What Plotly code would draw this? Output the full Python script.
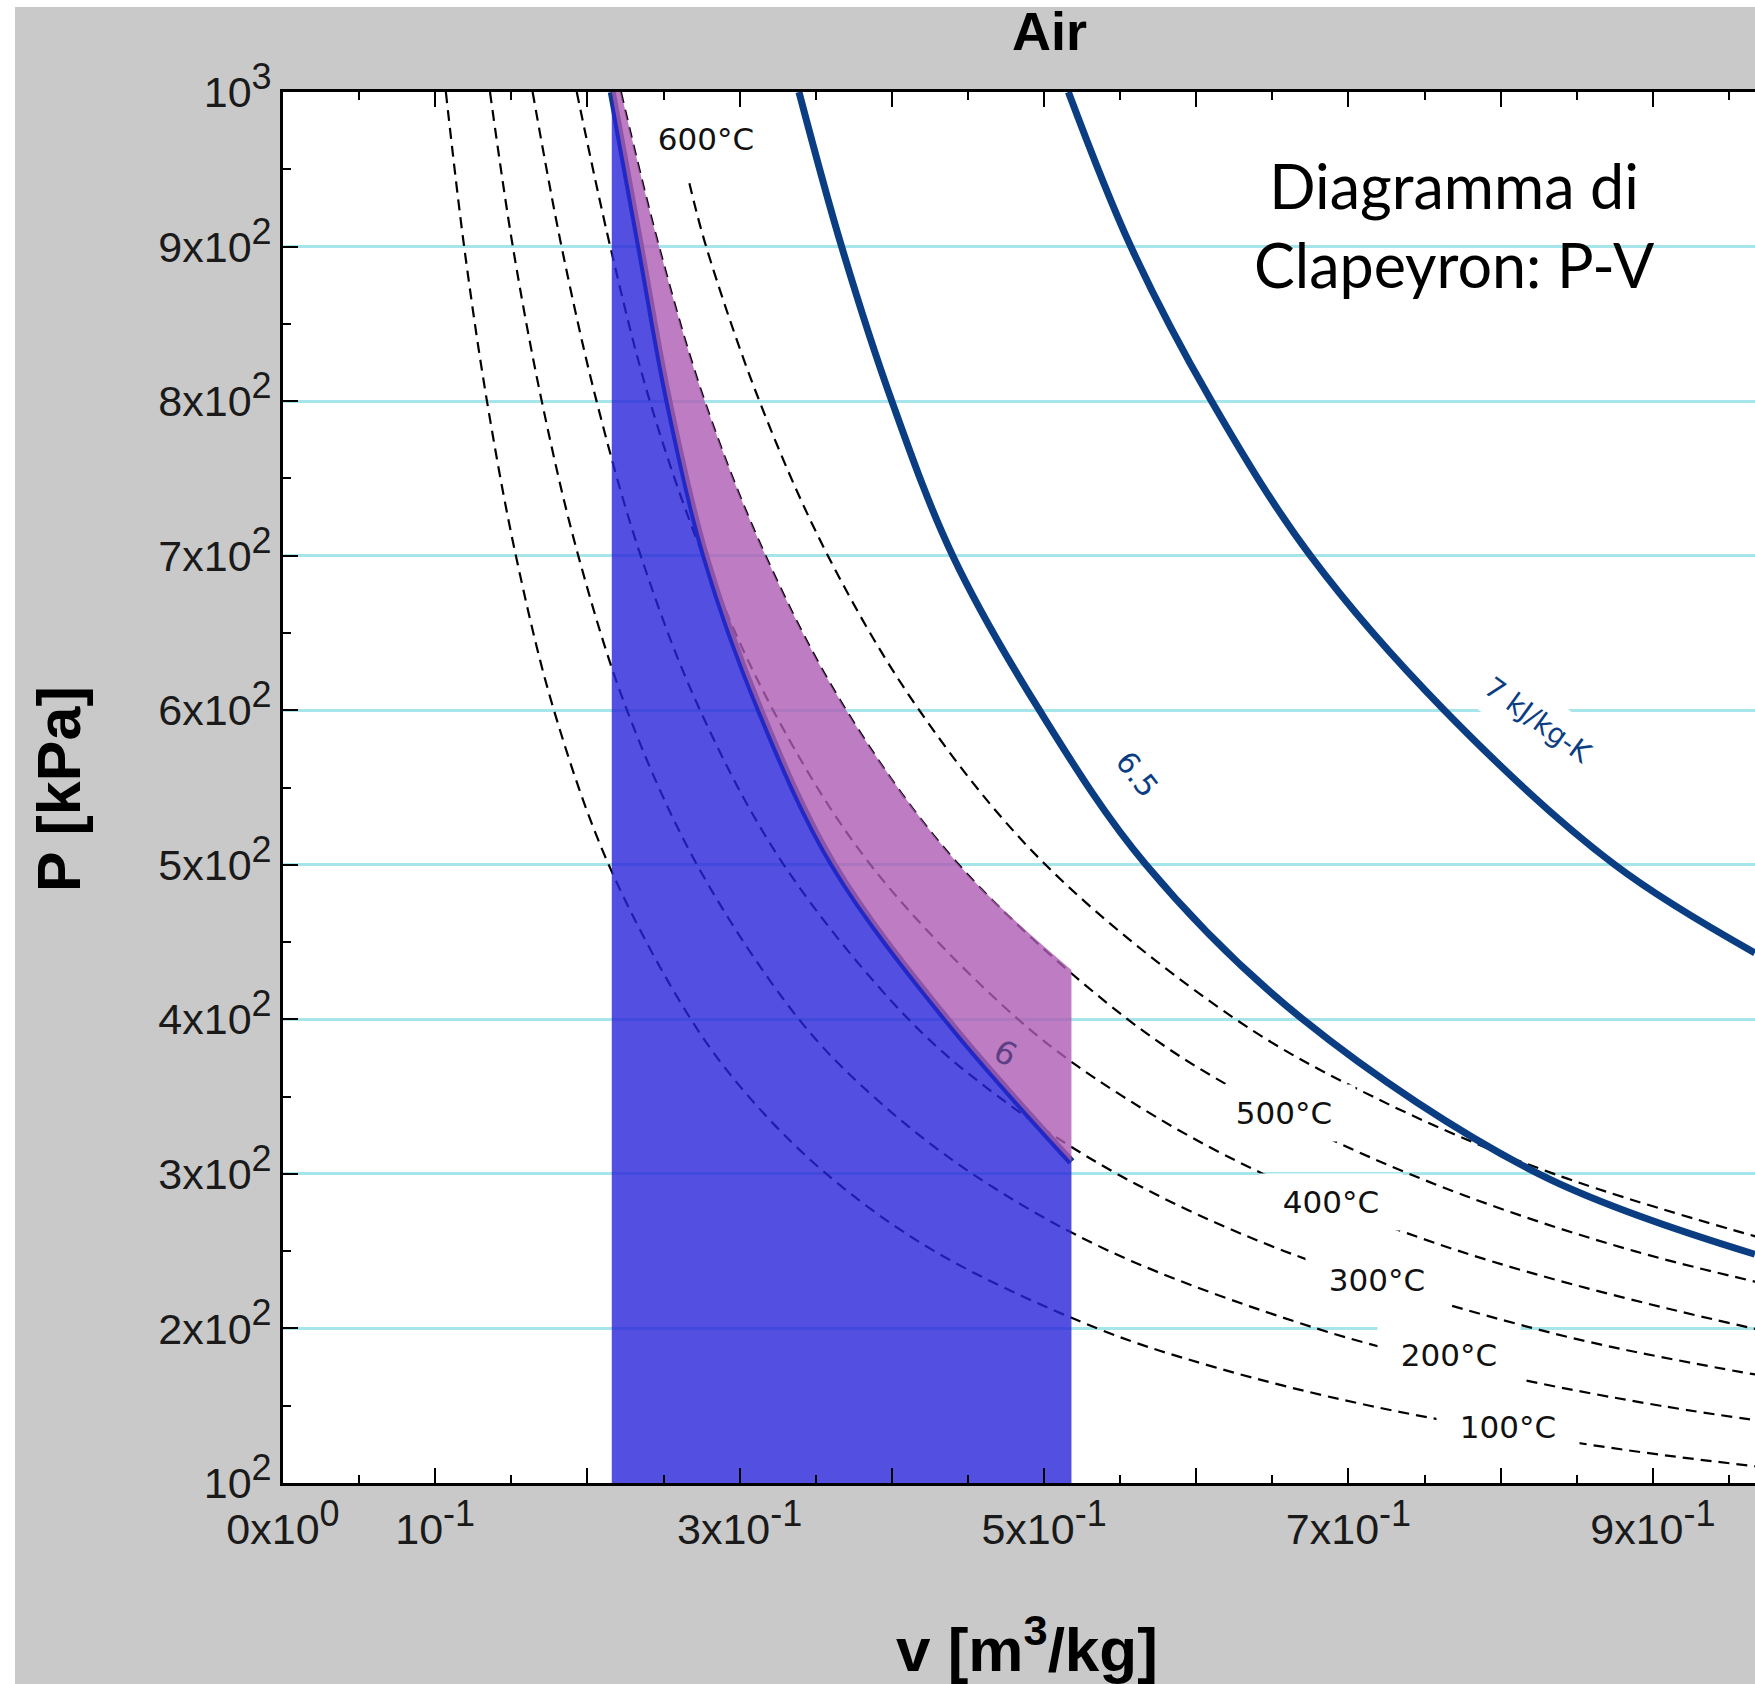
import plotly.graph_objects as go

# ---------------- data ----------------
# isotherms (ideal-gas air), v [m3/kg] read at pressure levels P [kPa]
iso_names = ["100°C", "200°C", "300°C", "400°C", "500°C", "600°C"]
iso_P_grid = [1000, 900, 800, 700, 600, 500, 400, 350, 300, 250, 200, 175, 150, 125, 110, 100]
iso_v_100 = [0.107, 0.119, 0.134, 0.153, 0.178, 0.214, 0.268, 0.306, 0.357, 0.428, 0.535, 0.612, 0.714, 0.857, 0.974, 1.071]
iso_v_200 = [0.136, 0.151, 0.170, 0.194, 0.226, 0.272, 0.339, 0.388, 0.453, 0.543, 0.679, 0.776, 0.905, 1.086]
iso_v_300 = [0.164, 0.183, 0.206, 0.235, 0.274, 0.329, 0.411, 0.470, 0.548, 0.658, 0.822, 0.940, 1.097]
iso_v_400 = [0.193, 0.215, 0.241, 0.276, 0.322, 0.386, 0.483, 0.552, 0.644, 0.773, 0.966, 1.104]
iso_v_500 = [0.222, 0.247, 0.277, 0.317, 0.370, 0.444, 0.555, 0.634, 0.740, 0.888, 1.109]
iso_P_600 = [941, 900, 800, 700, 600, 500, 400, 350, 300, 250]
iso_v_600 = [0.267, 0.278, 0.313, 0.358, 0.418, 0.501, 0.626, 0.716, 0.835, 1.002]

# isentropes [kJ/kg-K]
s6_v = [0.216, 0.2346, 0.2532, 0.2773, 0.3134, 0.3616, 0.436, 0.518]
s6_P = [1000, 900, 800, 700, 600, 500, 400, 307.8]
s65_v = [0.339, 0.367, 0.400, 0.440, 0.497, 0.567, 0.670, 0.825, 0.967]
s65_P = [1000, 900, 800, 700, 600, 500, 400, 300, 248]
s7_v = [0.516, 0.557, 0.610, 0.675, 0.763, 0.875, 0.967]
s7_P = [1000, 900, 800, 700, 600, 500, 443]

# upper edge of the magenta area (500°C isotherm up to v = 0.518)
mag_v = [0.222, 0.247, 0.277, 0.317, 0.370, 0.444, 0.518]
mag_P = [1000, 900, 800, 700, 600, 500, 432]

# curve labels and where they sit (v, P)
iso_label_v = [0.8049, 0.7658, 0.719, 0.6886, 0.6578, 0.2777]
iso_label_P = [136.2, 182.7, 231.4, 281.7, 339.2, 969.6]
s_label_text = ["6", "6.5", "7 kJ/kg-K"]
s_label_v = [0.4744, 0.5613, 0.8243]
s_label_P = [378, 558.3, 593.7]

# axis ticks
SUP = '<sup><span style="font-size:36px">{}</span></sup>'
x_tickvals = [0, 0.1, 0.2, 0.3, 0.4, 0.5, 0.6, 0.7, 0.8, 0.9]
x_ticktext = ["0x10" + SUP.format("0"), "10" + SUP.format("-1"), "", "3x10" + SUP.format("-1"), "",
              "5x10" + SUP.format("-1"), "", "7x10" + SUP.format("-1"), "", "9x10" + SUP.format("-1")]
x_minorvals = [0.05, 0.15, 0.25, 0.35, 0.45, 0.55, 0.65, 0.75, 0.85, 0.95]
y_tickvals = [100, 200, 300, 400, 500, 600, 700, 800, 900, 1000]
y_ticktext = ["10" + SUP.format("2"), "2x10" + SUP.format("2"), "3x10" + SUP.format("2"),
              "4x10" + SUP.format("2"), "5x10" + SUP.format("2"), "6x10" + SUP.format("2"),
              "7x10" + SUP.format("2"), "8x10" + SUP.format("2"), "9x10" + SUP.format("2"),
              "10" + SUP.format("3")]
y_minorvals = [150, 250, 350, 450, 550, 650, 750, 850, 950]

# ---------------- styles ----------------
NAVY = "#0b3d82"
GRID = "#a6e6ea"
GRAY = "#c9c9c9"
TICKFONT = dict(family="Liberation Sans, Arial, sans-serif", size=43, color="#1a1a1a")
LABFONT = "DejaVu Sans, Liberation Sans, sans-serif"

fig = go.Figure()

iso_series = [
    (iso_v_100, iso_P_grid[:len(iso_v_100)]),
    (iso_v_200, iso_P_grid[:len(iso_v_200)]),
    (iso_v_300, iso_P_grid[:len(iso_v_300)]),
    (iso_v_400, iso_P_grid[:len(iso_v_400)]),
    (iso_v_500, iso_P_grid[:len(iso_v_500)]),
    (iso_v_600, iso_P_600),
]
for name, (vv, pp) in zip(iso_names, iso_series):
    fig.add_trace(go.Scatter(x=vv, y=pp, mode="lines", name=name,
                             line=dict(color="black", width=2.2, dash="11px,7px", shape="spline"),
                             hoverinfo="skip"))

# s = 6 line (below the coloured areas)
fig.add_trace(go.Scatter(x=s6_v, y=s6_P, mode="lines", name="6",
                         line=dict(color=NAVY, width=8, shape="spline"), hoverinfo="skip"))
# blue area below s = 6
fig.add_trace(go.Scatter(x=s6_v, y=s6_P, mode="lines", fill="tozeroy",
                         fillcolor="rgba(40,35,216,0.8)",
                         line=dict(width=0, shape="spline"), hoverinfo="skip"))
# magenta area between s = 6 and 500°C
fig.add_trace(go.Scatter(x=mag_v, y=mag_P, mode="lines", fill="tonexty",
                         fillcolor="rgba(174,91,179,0.8)",
                         line=dict(width=0, shape="spline"), hoverinfo="skip"))
# isentropes 6.5 and 7
for vv, pp in [(s65_v, s65_P), (s7_v, s7_P)]:
    fig.add_trace(go.Scatter(x=vv, y=pp, mode="lines",
                             line=dict(color=NAVY, width=7, shape="spline"), hoverinfo="skip"))

annotations = []
for txt, vx, py in zip(iso_names, iso_label_v, iso_label_P):
    annotations.append(dict(x=vx, y=py, xref="x", yref="y", text=txt, showarrow=False,
                            font=dict(family=LABFONT, size=31, color="#111111"),
                            bgcolor="white", width=140 if txt != "600°C" else 118, height=54,
                            xanchor="center", yanchor="middle"))
# isentrope labels
annotations.append(dict(x=s_label_v[0], y=s_label_P[0], xref="x", yref="y", text=s_label_text[0],
                        showarrow=False, textangle=28,
                        font=dict(family=LABFONT, size=32, color="#5e3f86")))
annotations.append(dict(x=s_label_v[1], y=s_label_P[1], xref="x", yref="y", text=s_label_text[1],
                        showarrow=False, textangle=52,
                        font=dict(family=LABFONT, size=30, color=NAVY)))
annotations.append(dict(x=s_label_v[2], y=s_label_P[2], xref="x", yref="y", text=s_label_text[2],
                        showarrow=False, textangle=36, bgcolor="white", width=160, height=50,
                        font=dict(family=LABFONT, size=28, color=NAVY)))
# titles
annotations.append(dict(x=0.5204, y=1.0439, xref="paper", yref="paper", text="<b>Air</b>",
                        showarrow=False, xanchor="center", yanchor="middle",
                        font=dict(family="Liberation Sans, Arial, sans-serif", size=54, color="black")))
annotations.append(dict(x=-0.1522, y=0.4989, xref="paper", yref="paper", text="<b>P [kPa]</b>",
                        showarrow=False, xanchor="center", yanchor="middle", textangle=-90,
                        font=dict(family="Liberation Sans, Arial, sans-serif", size=61, color="black")))
annotations.append(dict(x=0.5054, y=-0.1165, xref="paper", yref="paper", text="<b>v [m<sup>3</sup>/kg]</b>",
                        showarrow=False, xanchor="center", yanchor="middle",
                        font=dict(family="Liberation Sans, Arial, sans-serif", size=62, color="black")))
annotations.append(dict(x=0.796, y=0.9045, xref="paper", yref="paper",
                        text="Diagramma di<br>Clapeyron: P-V",
                        showarrow=False, xanchor="center", yanchor="middle", align="center",
                        font=dict(family="Lato, Open Sans, sans-serif", size=61, color="black")))

shapes = [
    dict(type="rect", xref="paper", yref="paper", x0=-0.21, x1=-0.18207, y0=-0.2, y1=1.1,
         fillcolor="white", line=dict(width=0), layer="below"),
    dict(type="rect", xref="paper", yref="paper", x0=-0.21, x1=1.1, y0=1.06111, y1=1.1,
         fillcolor="white", line=dict(width=0), layer="below"),
]

fig.update_layout(
    width=1755, height=1684, autosize=False,
    margin=dict(l=283, r=0, t=92, b=201, pad=0),
    paper_bgcolor=GRAY, plot_bgcolor="white",
    showlegend=False,
    annotations=annotations, shapes=shapes,
    xaxis=dict(range=[0, 0.9671], showline=True, linecolor="black", linewidth=2.5,
               mirror="ticks", ticks="inside", ticklen=15, tickwidth=2, tickcolor="black",
               tickvals=x_tickvals, ticktext=x_ticktext, tickfont=TICKFONT,
               ticklabelstandoff=7,
               showgrid=False, zeroline=False,
               minor=dict(tickvals=x_minorvals, ticks="inside", ticklen=8, tickwidth=2,
                          tickcolor="black", showgrid=False)),
    yaxis=dict(range=[100, 1000], showline=True, linecolor="black", linewidth=2.5,
               mirror=False, ticks="inside", ticklen=15, tickwidth=2, tickcolor="black",
               tickvals=y_tickvals, ticktext=y_ticktext, tickfont=TICKFONT,
               showgrid=True, gridcolor=GRID, gridwidth=2.5, zeroline=False,
               minor=dict(tickvals=y_minorvals, ticks="inside", ticklen=8, tickwidth=2,
                          tickcolor="black", showgrid=False)),
)

fig.write_html("out.html")
